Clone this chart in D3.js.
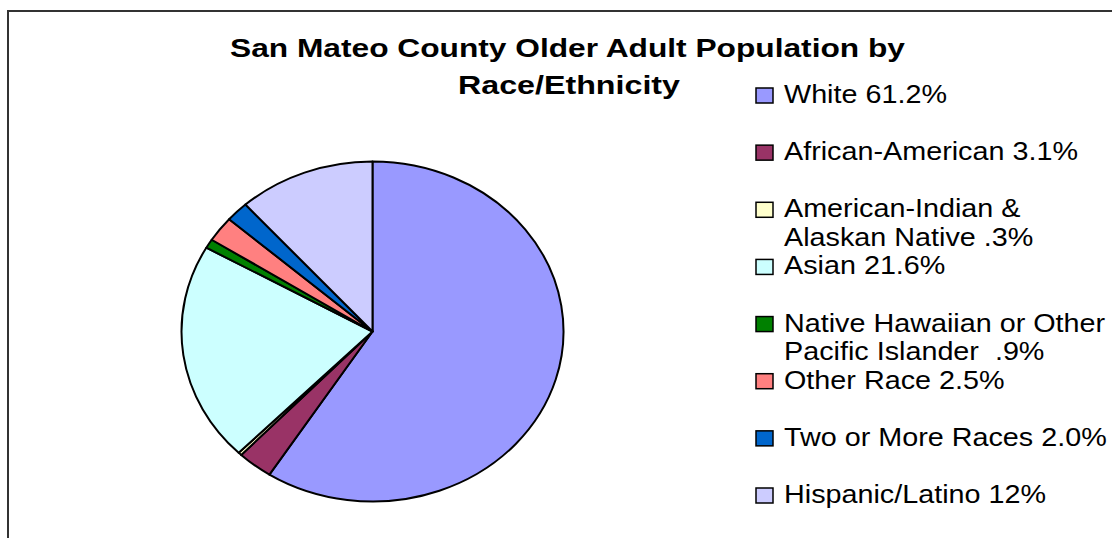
<!DOCTYPE html>
<html><head><meta charset="utf-8">
<script src="https://cdn.jsdelivr.net/npm/d3@7"></script>
<style>
html,body{margin:0;padding:0;background:#fff;overflow:hidden}
text{font-family:"Liberation Sans",Arial,sans-serif;white-space:pre}
</style></head>
<body>
<svg id="chart" width="1112" height="538"></svg>
<script>
const titleLines = ["San Mateo County Older Adult Population by", "Race/Ethnicity"];
const categories = ["White", "African-American", "American-Indian & Alaskan Native", "Asian",
  "Native Hawaiian or Other Pacific Islander", "Other Race", "Two or More Races", "Hispanic/Latino"];
const values = [61.2, 3.1, 0.3, 21.6, 0.9, 2.5, 2.0, 12];
const legendLabels = [
  ["White 61.2%"],
  ["African-American 3.1%"],
  ["American-Indian &", "Alaskan Native .3%"],
  ["Asian 21.6%"],
  ["Native Hawaiian or Other", "Pacific Islander  .9%"],
  ["Other Race 2.5%"],
  ["Two or More Races 2.0%"],
  ["Hispanic/Latino 12%"]
];
const colors = ["#9999FF", "#993366", "#FFFFCC", "#CCFFFF", "#008000", "#FF8080", "#0066CC", "#CCCCFF"];

const svg = d3.select("#chart");

// outer border
svg.append("rect").attr("x", 8).attr("y", 11).attr("width", 1200).attr("height", 600)
  .attr("fill", "none").attr("stroke", "#333").attr("stroke-width", 2);

// title
const titleG = svg.append("g");
const titleWidths = [675, 222];
const titleX = [567.5, 569];
const titleY = [57, 94];
titleLines.forEach((t, i) => {
  titleG.append("text").attr("x", titleX[i]).attr("y", titleY[i])
    .attr("text-anchor", "middle").attr("font-size", 25).attr("font-weight", "bold")
    .attr("textLength", titleWidths[i]).attr("lengthAdjust", "spacingAndGlyphs")
    .attr("fill", "#000").text(t);
});

// pie
const rx = 191, ry = 170;
const pie = d3.pie().sort(null).value(d => d);
const arc = d3.arc().innerRadius(0).outerRadius(ry);
const color = d3.scaleOrdinal().domain(categories).range(colors);
const pieG = svg.append("g").attr("transform", `translate(372.5,331.5) scale(${rx / ry},1)`);
pieG.selectAll("path").data(pie(values)).join("path")
  .attr("d", arc)
  .attr("fill", (d, i) => color(categories[i]))
  .attr("stroke", "#000").attr("stroke-width", 2)
  .attr("stroke-linejoin", "round")
  .attr("vector-effect", "non-scaling-stroke");

// legend
const yLeg = d3.scaleLinear().domain([0, categories.length - 1]).range([103, 503]);
const sx = 1.15;
const leg = svg.append("g");
categories.forEach((c, i) => {
  const by = yLeg(i);
  leg.append("rect").attr("x", 756).attr("y", by - 15).attr("width", 17).attr("height", 15)
    .attr("fill", color(c)).attr("stroke", "#000").attr("stroke-width", 1.5);
  const tg = leg.append("g").attr("transform", `translate(784,${by}) scale(${sx},1)`);
  legendLabels[i].forEach((line, j) => {
    tg.append("text").attr("x", 0).attr("y", j * 28.5)
      .attr("font-size", 25).attr("fill", "#000").text(line);
  });
});
</script>
</body></html>
